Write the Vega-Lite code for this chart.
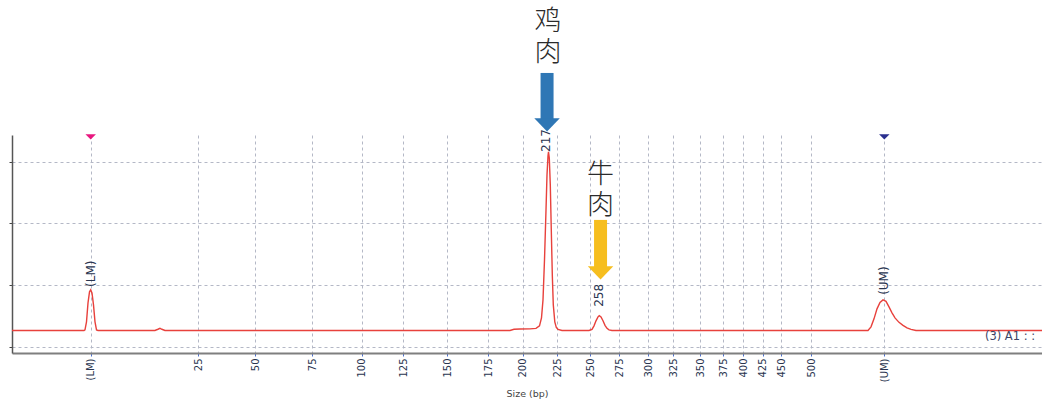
{
  "$schema": "https://vega.github.io/schema/vega-lite/v6.json",
  "width": 1030,
  "height": 218,
  "autosize": "none",
  "padding": {"left": 12, "top": 135, "right": 0, "bottom": 53},
  "background": "white",
  "config": {"view": {"stroke": null}},
  "resolve": {"scale": {"color": "independent"}},
  "datasets": {
    "trace": [
      {"bp": 7.7, "v": 0.26}, {"bp": 14.0, "v": 0.26}, {"bp": 14.38, "v": 0.26}, {"bp": 14.47, "v": 0.271},
      {"bp": 14.61, "v": 0.40}, {"bp": 14.75, "v": 0.708}, {"bp": 14.89, "v": 0.887}, {"bp": 15.0, "v": 0.919},
      {"bp": 15.12, "v": 0.870}, {"bp": 15.26, "v": 0.676}, {"bp": 15.40, "v": 0.40}, {"bp": 15.54, "v": 0.27},
      {"bp": 15.68, "v": 0.26}, {"bp": 20.97, "v": 0.26}, {"bp": 21.25, "v": 0.28}, {"bp": 21.44, "v": 0.295},
      {"bp": 21.62, "v": 0.28}, {"bp": 21.90, "v": 0.26}, {"bp": 190.77, "v": 0.26}, {"bp": 193.68, "v": 0.279},
      {"bp": 198.04, "v": 0.284}, {"bp": 205.27, "v": 0.287}, {"bp": 209.61, "v": 0.295}, {"bp": 212.14, "v": 0.335},
      {"bp": 213.58, "v": 0.465}, {"bp": 214.67, "v": 0.757}, {"bp": 215.75, "v": 1.405}, {"bp": 216.84, "v": 2.216},
      {"bp": 217.56, "v": 2.783}, {"bp": 218.28, "v": 3.091}, {"bp": 218.64, "v": 3.156}, {"bp": 219.22, "v": 3.058},
      {"bp": 219.94, "v": 2.621}, {"bp": 220.66, "v": 1.891}, {"bp": 221.39, "v": 1.162}, {"bp": 222.11, "v": 0.676},
      {"bp": 223.19, "v": 0.40}, {"bp": 224.28, "v": 0.311}, {"bp": 225.54, "v": 0.279}, {"bp": 228.59, "v": 0.26},
      {"bp": 249.24, "v": 0.26}, {"bp": 251.71, "v": 0.279}, {"bp": 253.41, "v": 0.335}, {"bp": 255.12, "v": 0.417},
      {"bp": 256.83, "v": 0.481}, {"bp": 257.93, "v": 0.502}, {"bp": 259.39, "v": 0.481}, {"bp": 261.09, "v": 0.417},
      {"bp": 262.80, "v": 0.344}, {"bp": 264.50, "v": 0.295}, {"bp": 266.21, "v": 0.271}, {"bp": 268.77, "v": 0.26},
      {"bp": 888.82, "v": 0.26}, {"bp": 909.28, "v": 0.319}, {"bp": 929.74, "v": 0.449}, {"bp": 950.21, "v": 0.611},
      {"bp": 970.67, "v": 0.716}, {"bp": 991.13, "v": 0.757}, {"bp": 1005.39, "v": 0.733}, {"bp": 1014.90, "v": 0.643},
      {"bp": 1024.42, "v": 0.546}, {"bp": 1033.93, "v": 0.465}, {"bp": 1046.61, "v": 0.392}, {"bp": 1059.30, "v": 0.344},
      {"bp": 1071.98, "v": 0.303}, {"bp": 1084.67, "v": 0.279}, {"bp": 1100.52, "v": 0.26}, {"bp": 1500, "v": 0.26}
    ],
    "peaks": [
      {"bp": 15, "v": 0.967, "label": "(LM)"},
      {"bp": 217, "v": 3.156, "label": "217"},
      {"bp": 258, "v": 0.643, "label": "258"},
      {"bp": 1000, "v": 0.838, "label": "(UM)"}
    ],
    "markers": [
      {"bp": 15, "v": 3.40, "kind": "LM"},
      {"bp": 1000, "v": 3.40, "kind": "UM"}
    ],
    "arrows": [
      {"bp": 217.6, "v": 4.436, "v2": 3.62, "head": 3.593, "meat": "鸡肉"},
      {"bp": 259.0, "v": 2.053, "v2": 1.22, "head": 1.194, "meat": "牛肉"}
    ],
    "words": [
      {"bp": 218.3, "v": 5.47, "text": "鸡\n肉"},
      {"bp": 259.0, "v": 3.0, "text": "牛\n肉"}
    ],
    "tag": [
      {"bp": 1319, "v": 0.109, "text": "(3) A1 : :"}
    ]
  },
  "encoding": {
    "x": {
      "field": "bp", "type": "quantitative",
      "scale": {
        "type": "linear", "zero": false, "nice": false,
        "domain": [7.7, 15, 25, 50, 75, 100, 125, 150, 175, 200, 225, 250, 275, 300, 325, 350, 375, 400, 425, 450, 500, 1000, 1500],
        "range": [0, 78.7, 186.3, 243, 300.3, 349.7, 391.3, 435.3, 476.3, 510.7, 545.3, 578, 607.3, 636, 661.3, 688, 711.3, 731.3, 750.7, 769, 799, 872.3, 1030]
      },
      "axis": {
        "values": [15, 25, 50, 75, 100, 125, 150, 175, 200, 225, 250, 275, 300, 325, 350, 375, 400, 425, 450, 500, 1000],
        "labelExpr": "datum.value == 15 ? '(LM)' : (datum.value == 1000 ? '(UM)' : datum.label)",
        "format": "d",
        "labelAngle": 270,
        "labelFont": "DejaVu Sans",
        "labelFontSize": 10,
        "labelColor": "#2a3550",
        "labelPadding": 2,
        "labelOverlap": false,
        "labelFlush": false,
        "grid": true,
        "gridDash": [3, 3],
        "gridColor": "#b4b8c6",
        "gridWidth": 1,
        "domainColor": "#7f7f7f",
        "domainWidth": 2,
        "tickColor": "#4a6fd0",
        "tickSize": 3,
        "title": "Size (bp)",
        "titleFont": "DejaVu Sans",
        "titleFontSize": 9.5,
        "titleFontWeight": "normal",
        "titleColor": "#444444",
        "titlePadding": 7
      }
    },
    "y": {
      "field": "v", "type": "quantitative",
      "scale": {"domain": [-0.105, 3.43], "zero": false, "nice": false},
      "axis": {
        "values": [0, 1, 2, 3],
        "labels": false,
        "ticks": true,
        "tickSize": 3,
        "tickColor": "#444444",
        "domainColor": "#555555",
        "domainWidth": 1.5,
        "grid": true,
        "gridDash": [3, 3],
        "gridColor": "#b4b8c6",
        "title": null
      }
    }
  },
  "layer": [
    {
      "data": {"name": "trace"},
      "mark": {"type": "line", "color": "#e8413c", "strokeWidth": 1.4, "clip": false}
    },
    {
      "data": {"name": "peaks"},
      "mark": {"type": "text", "angle": 270, "align": "left", "baseline": "middle", "font": "DejaVu Sans", "fontSize": 12, "color": "#2a3550"},
      "encoding": {"text": {"field": "label"}}
    },
    {
      "data": {"name": "markers"},
      "mark": {"type": "point", "filled": true, "opacity": 1, "size": 110, "shape": "M-1,-0.5L1,-0.5L0,0.5Z", "strokeWidth": 0},
      "encoding": {
        "color": {"field": "kind", "type": "nominal", "scale": {"domain": ["LM", "UM"], "range": ["#e8177f", "#2a2f8f"]}, "legend": null}
      }
    },
    {
      "data": {"name": "arrows"},
      "mark": {"type": "rule", "strokeWidth": 13, "strokeCap": "butt"},
      "encoding": {
        "y2": {"field": "v2"},
        "color": {"field": "meat", "type": "nominal", "scale": {"domain": ["鸡肉", "牛肉"], "range": ["#2f77b5", "#f6be1f"]}, "legend": null}
      }
    },
    {
      "data": {"name": "arrows"},
      "mark": {"type": "point", "filled": true, "opacity": 1, "size": 650, "shape": "M-1,-0.52L1,-0.52L0,0.52Z", "strokeWidth": 0},
      "encoding": {
        "y": {"field": "head", "type": "quantitative"},
        "color": {"field": "meat", "type": "nominal", "scale": {"domain": ["鸡肉", "牛肉"], "range": ["#2f77b5", "#f6be1f"]}, "legend": null}
      }
    },
    {
      "data": {"name": "words"},
      "mark": {"type": "text", "align": "center", "baseline": "top", "lineBreak": "\n", "lineHeight": 31, "font": "Noto Sans CJK SC", "fontSize": 27, "fontWeight": 300, "color": "#2b2b2b"},
      "encoding": {"text": {"field": "text"}}
    },
    {
      "data": {"name": "tag"},
      "mark": {"type": "text", "align": "left", "baseline": "alphabetic", "font": "DejaVu Sans", "fontSize": 11.5, "color": "#3d4466"},
      "encoding": {"text": {"field": "text"}}
    }
  ]
}
